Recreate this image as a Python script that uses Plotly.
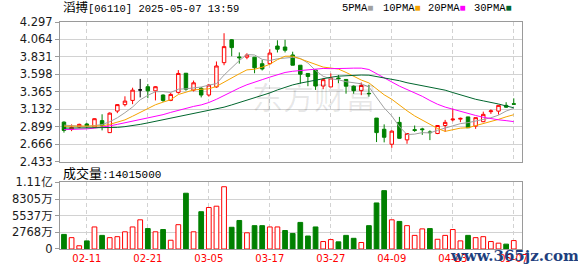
import plotly.graph_objects as go

# ---------------- data ----------------
dates = ["02-06", "02-07", "02-10", "02-11", "02-12", "02-13", "02-14", "02-17", "02-18", "02-19",
         "02-20", "02-21", "02-24", "02-25", "02-26", "02-27", "02-28", "03-03", "03-04", "03-05",
         "03-06", "03-07", "03-10", "03-11", "03-12", "03-13", "03-14", "03-17", "03-18", "03-19",
         "03-20", "03-21", "03-24", "03-25", "03-26", "03-27", "03-28", "03-31", "04-01", "04-02",
         "04-03", "04-07", "04-08", "04-09", "04-10", "04-11", "04-14", "04-15", "04-16", "04-17",
         "04-22", "04-23", "04-24", "04-25", "04-28", "04-29", "04-30", "05-02", "05-06", "05-07"]

opens = [2.96, 2.865, 2.895, 2.935, 2.895, 2.98, 2.82, 3.108, 3.194, 3.25,
         3.39, 3.433, 3.378, 3.322, 3.25, 3.357, 3.613, 3.387, 3.412, 3.322,
         3.43, 3.754, 4.06, 3.83, 3.827, 3.827, 3.74, 3.741, 3.976, 3.963,
         3.857, 3.72, 3.61, 3.656, 3.442, 3.43, 3.55, 3.53, 3.44, 3.38,
         3.345, 3.014, 2.865, 2.665, 2.957, 2.723, 2.86, 2.87, 2.83, 2.808,
         2.915, 2.99, 3.00, 3.03, 2.906, 2.966, 3.10, 3.107, 3.184, 3.205]
highs = [2.97, 2.93, 2.94, 2.95, 3.01, 3.065, 3.09, 3.20, 3.305, 3.42,
         3.537, 3.47, 3.44, 3.33, 3.35, 3.655, 3.613, 3.515, 3.43, 3.47,
         3.77, 4.147, 4.07, 3.891, 3.88, 3.83, 3.79, 3.934, 4.053, 4.06,
         3.90, 3.72, 3.61, 3.66, 3.55, 3.61, 3.59, 3.53, 3.45, 3.49,
         3.46, 3.014, 2.93, 2.85, 3.03, 2.81, 2.915, 2.885, 2.85, 2.92,
         2.99, 3.141, 3.02, 3.03, 3.02, 3.10, 3.13, 3.19, 3.226, 3.278]
lows = [2.82, 2.84, 2.88, 2.88, 2.89, 2.85, 2.82, 3.08, 3.17, 3.20,
        3.29, 3.28, 3.25, 3.23, 3.24, 3.34, 3.38, 3.37, 3.29, 3.30,
        3.42, 3.72, 3.84, 3.741, 3.80, 3.613, 3.65, 3.73, 3.89, 3.89,
        3.72, 3.472, 3.44, 3.39, 3.40, 3.43, 3.48, 3.34, 3.34, 3.32,
        3.30, 2.694, 2.69, 2.617, 2.74, 2.671, 2.83, 2.79, 2.72, 2.80,
        2.83, 2.97, 2.96, 2.885, 2.87, 2.96, 3.07, 3.06, 3.15, 3.19]
closes = [2.85, 2.89, 2.93, 2.90, 3.006, 2.91, 3.08, 3.194, 3.241, 3.387,
          3.39, 3.378, 3.433, 3.25, 3.33, 3.61, 3.40, 3.485, 3.322, 3.455,
          3.71, 3.968, 3.955, 3.82, 3.857, 3.686, 3.67, 3.882, 3.934, 3.92,
          3.72, 3.60, 3.57, 3.442, 3.527, 3.55, 3.54, 3.44, 3.38, 3.45,
          3.34, 2.82, 2.758, 2.84, 2.744, 2.808, 2.85, 2.86, 2.82, 2.915,
          2.957, 3.00, 3.01, 2.885, 3.02, 3.064, 3.11, 3.184, 3.16, 3.20]
prev_close_first = 2.93

# volume in 万 (10k shares)
volume_wan = [2428, 1889, 540, 1349, 3669, 2266, 1889, 2050, 2860, 3669,
              4856, 3400, 2860, 3238, 1457, 4047, 9281, 2860, 6205, 6907,
              7123, 10360, 3615, 4748, 2698, 3885, 3885, 3669, 3669, 3076,
              2590, 4425, 2158, 3669, 1241, 1565, 1187, 2266, 1781, 1079,
              3885, 7662, 9713, 4856, 4587, 3885, 2266, 3346, 3400, 1619,
              2266, 3238, 1349, 2266, 1889, 2050, 1241, 971, 809, 1401.5]

ma5 = [2.92, 2.91, 2.90, 2.90, 2.915, 2.927, 2.965, 3.018, 3.086, 3.162,
       3.258, 3.318, 3.366, 3.368, 3.356, 3.400, 3.405, 3.415, 3.429, 3.454,
       3.474, 3.588, 3.682, 3.782, 3.862, 3.857, 3.798, 3.783, 3.806, 3.818,
       3.825, 3.811, 3.749, 3.650, 3.572, 3.538, 3.526, 3.500, 3.487, 3.472,
       3.430, 3.286, 3.150, 3.042, 2.900, 2.794, 2.800, 2.820, 2.816, 2.851,
       2.880, 2.910, 2.940, 2.953, 2.974, 2.996, 3.018, 3.053, 3.108, 3.144]
ma10 = [2.905, 2.905, 2.905, 2.905, 2.905, 2.91, 2.93, 2.955, 2.99, 3.039,
        3.093, 3.142, 3.192, 3.227, 3.259, 3.329, 3.361, 3.390, 3.399, 3.405,
        3.437, 3.496, 3.549, 3.606, 3.658, 3.666, 3.693, 3.733, 3.794, 3.840,
        3.841, 3.804, 3.766, 3.728, 3.695, 3.682, 3.669, 3.624, 3.569, 3.522,
        3.484, 3.406, 3.325, 3.265, 3.186, 3.112, 3.043, 2.985, 2.929, 2.876,
        2.837, 2.855, 2.880, 2.885, 2.913, 2.938, 2.964, 2.997, 3.031, 3.059]
ma20 = [2.86, 2.86, 2.865, 2.87, 2.88, 2.89, 2.91, 2.93, 2.95, 2.98,
        3.00, 3.02, 3.04, 3.06, 3.09, 3.12, 3.14, 3.17, 3.19, 3.222,
        3.265, 3.319, 3.370, 3.416, 3.459, 3.498, 3.527, 3.561, 3.596, 3.623,
        3.639, 3.650, 3.657, 3.667, 3.677, 3.674, 3.681, 3.678, 3.681, 3.681,
        3.663, 3.605, 3.545, 3.496, 3.441, 3.397, 3.356, 3.305, 3.249, 3.199,
        3.161, 3.131, 3.103, 3.075, 3.049, 3.025, 3.004, 2.991, 2.980, 2.967]
ma30 = [2.88, 2.88, 2.885, 2.885, 2.885, 2.885, 2.89, 2.89, 2.90, 2.91,
        2.93, 2.95, 2.97, 2.99, 3.01, 3.03, 3.05, 3.07, 3.09, 3.11,
        3.14, 3.16, 3.19, 3.22, 3.25, 3.28, 3.31, 3.35, 3.39, 3.428,
        3.457, 3.481, 3.502, 3.520, 3.538, 3.559, 3.574, 3.582, 3.587, 3.589,
        3.587, 3.569, 3.546, 3.533, 3.513, 3.486, 3.468, 3.447, 3.431, 3.413,
        3.387, 3.355, 3.324, 3.293, 3.265, 3.244, 3.225, 3.202, 3.176, 3.152]

price_ticks = [2.433, 2.666, 2.899, 3.132, 3.365, 3.598, 3.831, 4.064, 4.297]
vol_ticks_wan = [0, 2768, 5537, 8305, 11072]
vol_tick_text = ["0", "2768万", "5537万", "8305万", "1.11亿"]
date_ticks = ["02-11", "02-21", "03-05", "03-17", "03-27", "04-09", "04-23", "05-07"]

title_text = "滔搏[06110] 2025-05-07 13:59"
vol_label = "成交量:14015000"
ma_names = ["5PMA", "10PMA", "20PMA", "30PMA"]

# ---------------- styles ----------------
RED = "#ff0000"
GREEN = "#008000"
MA_COLORS = ["#a0a0a0", "#f5a300", "#ff00ff", "#00662e"]
GRID = "#d2d2d2"
FRAME = "#9a9a9a"
MONO = "Liberation Mono, Noto Sans CJK SC, monospace"
SANS = "DejaVu Sans, Noto Sans CJK SC, sans-serif"

W, H = 578, 276
ML, MR, MT, MB = 56, 56, 22, 21
PW, PH = W - ML - MR, H - MT - MB


def px_x(px):
    return (px - ML) / PW


def px_y(py):
    return (H - MB - py) / PH


# split doji (open == close) from normal candles
is_doji = [o == c for o, c in zip(opens, closes)]


def masked(vals, keep):
    return [v if k else None for v, k in zip(vals, keep)]


normal = [not d for d in is_doji]

fig = go.Figure()

fig.add_trace(go.Candlestick(
    x=dates, open=masked(opens, normal), high=masked(highs, normal),
    low=masked(lows, normal), close=masked(closes, normal),
    increasing=dict(line=dict(color=RED, width=1), fillcolor="white"),
    decreasing=dict(line=dict(color=GREEN, width=1), fillcolor=GREEN),
    whiskerwidth=0, hoverinfo="skip", xaxis="x", yaxis="y"))

fig.add_trace(go.Candlestick(
    x=dates, open=masked(opens, is_doji), high=masked(highs, is_doji),
    low=masked(lows, is_doji), close=masked(closes, is_doji),
    increasing=dict(line=dict(color="black", width=1), fillcolor="black"),
    decreasing=dict(line=dict(color="black", width=1), fillcolor="black"),
    whiskerwidth=0, hoverinfo="skip", xaxis="x", yaxis="y"))

for name, vals, col in zip(ma_names, [ma5, ma10, ma20, ma30], MA_COLORS):
    fig.add_trace(go.Scatter(x=dates, y=vals, mode="lines", name=name,
                             line=dict(color=col, width=1), hoverinfo="skip",
                             xaxis="x", yaxis="y"))

# volume colours: up vs previous close
prevs = [prev_close_first] + closes[:-1]
up = [c >= p for c, p in zip(closes, prevs)]
fig.add_trace(go.Bar(
    x=dates, y=[v * 1e4 for v in volume_wan], width=0.62,
    marker=dict(color=["white" if u else GREEN for u in up],
                line=dict(color=[RED if u else GREEN for u in up], width=1)),
    hoverinfo="skip", xaxis="x2", yaxis="y2"))

xr = [-0.52, 60.08]
common_x = dict(type="category", range=xr, tickmode="array", tickvals=date_ticks,
                showgrid=True, gridcolor=GRID, griddash="4px,3px", gridwidth=1,
                showline=True, linecolor=FRAME, linewidth=1, mirror=True,
                ticks="", zeroline=False, fixedrange=True)

fig.update_layout(
    width=W, height=H, margin=dict(l=ML, r=MR, t=MT, b=MB, pad=0),
    paper_bgcolor="white", plot_bgcolor="white", showlegend=False,
    boxgap=0.35, boxmode="overlay",
    xaxis=dict(**common_x, anchor="y", domain=[0, 1], showticklabels=False,
               rangeslider=dict(visible=False)),
    yaxis=dict(domain=[px_y(165.3), 1], range=[price_ticks[0], price_ticks[-1]],
               tickmode="array", tickvals=price_ticks,
               ticktext=["%.3f" % t for t in price_ticks],
               showgrid=True, gridcolor=GRID, gridwidth=1, zeroline=False,
               showline=True, linecolor=FRAME, mirror=True,
               ticks="outside", ticklen=4, tickcolor=FRAME,
               tickfont=dict(family=SANS, size=11.5, color="#1a1a1a"), fixedrange=True),
    xaxis2=dict(**common_x, anchor="y2", domain=[0, 1], showticklabels=True,
                tickfont=dict(family=SANS, size=10, color=RED)),
    yaxis2=dict(domain=[0, px_y(186.7)], range=[0, vol_ticks_wan[-1] * 1e4],
                tickmode="array", tickvals=[v * 1e4 for v in vol_ticks_wan],
                ticktext=vol_tick_text,
                showgrid=True, gridcolor=GRID, gridwidth=1, zeroline=False,
                showline=True, linecolor=FRAME, mirror=True,
                ticks="outside", ticklen=4, tickcolor=FRAME,
                tickfont=dict(family=SANS, size=11.5, color="#1a1a1a"), fixedrange=True),
)

ann = []
ann.append(dict(text='<span style="font-size:12.5px">%s</span>%s' % (title_text[:2], title_text[2:]),
                x=px_x(57), y=px_y(8), xref="paper", yref="paper", xanchor="left",
                yanchor="middle", showarrow=False, font=dict(family=MONO, size=10.5, color="black")))
leg_x = [338, 380, 425, 472]
for name, col, lx in zip(ma_names, MA_COLORS, leg_x):
    ann.append(dict(text='%s<span style="color:%s;font-size:10px">■</span>' % (name, col),
                    x=px_x(lx), y=px_y(8), xref="paper", yref="paper", xanchor="left",
                    yanchor="middle", showarrow=False,
                    font=dict(family=MONO, size=10.5, color="black")))
ann.append(dict(text='<span style="font-size:13px">%s</span>%s' % (vol_label[:3], vol_label[3:]),
                x=px_x(57), y=px_y(178), xref="paper", yref="paper", xanchor="left",
                yanchor="middle", showarrow=False, font=dict(family=MONO, size=11, color="black")))
ann.append(dict(text="东方财富", x=px_x(312), y=px_y(97), xref="paper", yref="paper",
                xanchor="center", yanchor="middle", showarrow=False,
                font=dict(family="Noto Sans CJK SC", size=31, color="rgba(0,0,0,0.09)")))
ann.append(dict(text="<b>www.365jz.com</b>", x=px_x(514), y=px_y(262), xref="paper", yref="paper",
                xanchor="center", yanchor="middle", showarrow=False,
                font=dict(family="DejaVu Serif", size=15, color="#1e3f7e")))
fig.update_layout(annotations=ann)

fig.write_html("out.html", config=dict(displayModeBar=False, staticPlot=True))
